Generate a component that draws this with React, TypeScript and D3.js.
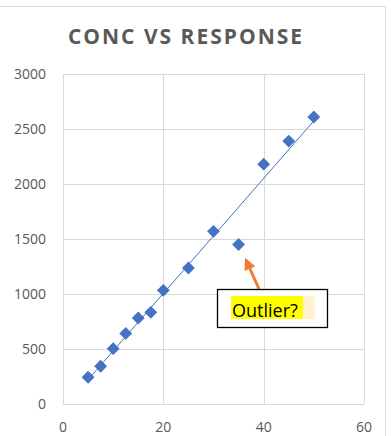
import { FC } from "react"
import * as d3 from "d3"

// concentration vs response readings
const conc = [5, 7.5, 10, 12.5, 15, 17.5, 20, 25, 30, 35, 40, 45, 50]
const response = [243, 343, 503, 642, 782, 833, 1033, 1236, 1570, 1450, 2180, 2390, 2609]
const xTicks = [0, 20, 40, 60]
const yTicks = [0, 500, 1000, 1500, 2000, 2500, 3000]
const title = "CONC VS RESPONSE"
const note = "Outlier?"

const W = 391
const H = 436
const FONT = "'Open Sans', 'Noto Sans', sans-serif"
const GRAY = "#595959"
const BLUE = "#4472C4"

const App: FC = () => {
    //plot area
    const left = 63, right = 364, top = 74, bottom = 404
    const x = d3.scaleLinear().domain([0, 60]).range([left, right])
    const y = d3.scaleLinear().domain([0, 3000]).range([bottom, top])

    // least squares trendline
    const mx = d3.mean(conc) as number
    const my = d3.mean(response) as number
    let sxy = 0, sxx = 0
    conc.forEach((c, i) => {
        sxy += (c - mx) * (response[i] - my)
        sxx += (c - mx) * (c - mx)
    })
    const slope = sxy / sxx
    const icpt = my - slope * mx
    const x0 = d3.min(conc) as number
    const x1 = d3.max(conc) as number
    const trend = d3.line<number>()
        .x(d => x(d))
        .y(d => y(icpt + slope * d))([x0, x1])

    const diamond = d3.symbol().type(d3.symbolDiamond2).size(105)()

    return (
        <svg width={W} height={H} style={{ position: "absolute", left: 0, top: 0, background: "#fff" }}
            fontFamily={FONT}>
            {/* chart frame */}
            <rect x={-2} y={6.5} width={387.5} height={H + 10} fill="#fff" stroke="#d9d9d9" strokeWidth={1} />
            <text x={186} y={44} textAnchor="middle" fontSize={21} fontWeight="bold" fill={GRAY}
                letterSpacing={2}>{title}</text>

            {/* gridlines */}
            {yTicks.map(t => (
                <line key={"gy" + t} x1={left} x2={right} y1={Math.round(y(t)) + 0.5} y2={Math.round(y(t)) + 0.5}
                    stroke="#d9d9d9" />
            ))}
            {xTicks.map(t => (
                <line key={"gx" + t} y1={top} y2={bottom} x1={Math.round(x(t)) + 0.5} x2={Math.round(x(t)) + 0.5}
                    stroke="#d9d9d9" />
            ))}

            {/* tick labels */}
            {yTicks.map(t => (
                <text key={"ly" + t} x={46} y={y(t) + 5} textAnchor="end" fontSize={14} fill={GRAY}>{t}</text>
            ))}
            {xTicks.map(t => (
                <text key={"lx" + t} x={x(t)} y={432} textAnchor="middle" fontSize={14} fill={GRAY}>{t}</text>
            ))}

            <path d={trend || ""} fill="none" stroke={BLUE} strokeWidth={1} />

            {conc.map((c, i) => (
                <path key={"p" + i} d={diamond || ""} transform={`translate(${x(c)},${y(response[i])})`} fill={BLUE} />
            ))}

            {/* annotation */}
            <defs>
                <marker id="ah" viewBox="0 0 10 10" refX={8} refY={5} markerWidth={4} markerHeight={4}
                    orient="auto">
                    <path d="M0,0 L10,5 L0,10 Z" fill="#ED7D31" />
                </marker>
            </defs>
            <line x1={259} y1={289} x2={246} y2={260} stroke="#ED7D31" strokeWidth={3} markerEnd="url(#ah)" />
            <rect x={217.5} y={289.5} width={110} height={38} fill="#fff" stroke="#000" strokeWidth={1.3} />
            <rect x={303} y={296} width={12} height={23} fill="#FFF2CC" />
            <rect x={231} y={296} width={72} height={23} fill="#FFFF00" />
            <text x={232} y={317} fontSize={18} fill="#000">{note}</text>
        </svg>
    )
}

export default App
